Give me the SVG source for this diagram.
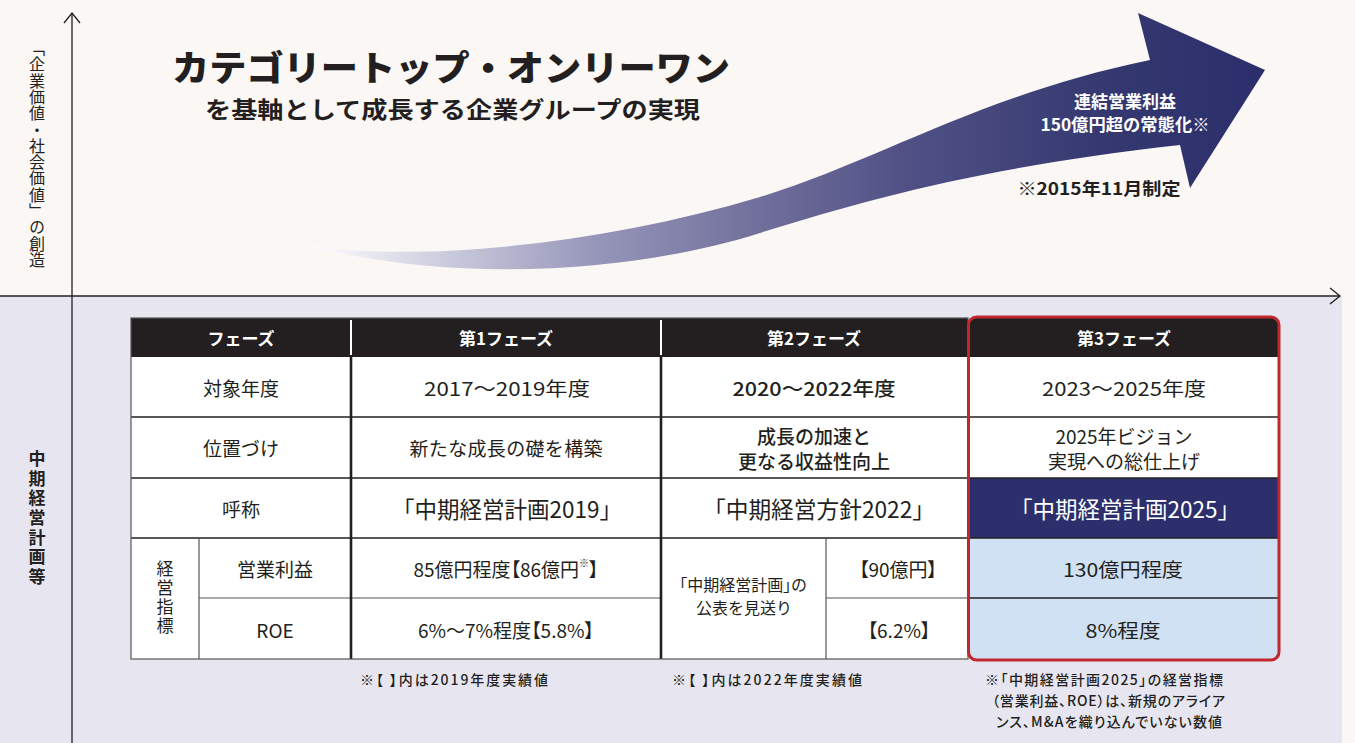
<svg xmlns="http://www.w3.org/2000/svg" width="1355" height="743" viewBox="0 0 1355 743">
<defs>
<linearGradient id="arrowGrad" gradientUnits="userSpaceOnUse" x1="310" y1="0" x2="1265" y2="0">
<stop offset="0" stop-color="#FFFFFF"/>
<stop offset="0.15" stop-color="#C8C8DC"/>
<stop offset="0.30" stop-color="#9696BA"/>
<stop offset="0.45" stop-color="#75749F"/>
<stop offset="0.62" stop-color="#515186"/>
<stop offset="0.83" stop-color="#353970"/>
<stop offset="1" stop-color="#2B2E6B"/>
</linearGradient>
<style>
text{font-family:"Noto Sans CJK JP","Noto Sans",sans-serif;fill:#231F20;}
.c{text-anchor:middle;dominant-baseline:central;}
.hd{font-size:17px;font-weight:700;fill:#FFFFFF;}
.cell{font-size:19px;font-weight:400;}
.big{font-size:23px;font-weight:400;}
.med{font-weight:500;}
.pa{font-feature-settings:"palt";}
.note{font-size:14px;font-weight:500;}
.axis{stroke:#231F20;stroke-width:1.3;fill:none;}
.blk{stroke:#231F20;stroke-width:1.6;}
.thk{stroke:#231F20;stroke-width:2.6;}
.gry{stroke:#555555;stroke-width:1.2;}
.wsep{stroke:#FFFFFF;stroke-width:2;}
</style>
</defs>

<g id="background">
<rect x="0" y="0" width="1355" height="743" fill="#FBF7F5"/>
<rect x="0" y="296" width="1342" height="447" fill="#E7E6F0"/>
</g>

<g id="axes">
<line class="axis" x1="0" y1="296" x2="1340" y2="296"/>
<polyline class="axis" points="1330,288 1340,296 1330,304"/>
<line class="axis" x1="72" y1="743" x2="72" y2="13"/>
<polyline class="axis" points="64,23 72,13 80,23"/>
</g>

<g id="axis-labels">
<text x="37" y="40" style="writing-mode:vertical-rl;font-size:16px;letter-spacing:0.3px;">「企業価値・社会価値」の創造</text>
<text x="37" y="450" style="writing-mode:vertical-rl;font-size:17px;font-weight:700;letter-spacing:2.7px;">中期経営計画等</text>
</g>

<g id="title">
<text x="172" y="65" dominant-baseline="central" font-size="35" font-weight="900" textLength="558" lengthAdjust="spacingAndGlyphs">カテゴリートップ・オンリーワン</text>
<text x="205" y="108" dominant-baseline="central" font-size="23" font-weight="700" textLength="495" lengthAdjust="spacingAndGlyphs">を基軸として成長する企業グループの実現</text>
</g>

<g id="growth-arrow">
<path d="M310,246 C420,262 600,245 760,197 C880,160 980,95 1150,60 L1138,13 L1265,70 L1190,188 L1180,145 C1000,165 880,195 760,233 C640,271 460,285 310,246 Z" fill="url(#arrowGrad)"/>
<text class="c" x="1125" y="100" font-size="17" font-weight="600" style="fill:#FFFFFF">連結営業利益</text>
<text class="c" x="1125" y="123" font-size="17" font-weight="600" style="fill:#FFFFFF" textLength="169" lengthAdjust="spacingAndGlyphs">150億円超の常態化※</text>
<text class="c" x="1099" y="187" font-size="17" font-weight="700" textLength="163" lengthAdjust="spacingAndGlyphs">※2015年11月制定</text>
</g>

<g id="table">
<rect x="131" y="318" width="837" height="39" fill="#231F20"/>
<rect x="131" y="357" width="837" height="302" fill="#FFFFFF"/>
<path d="M968,357 V325 Q968,317 976,317 H1271 Q1279,317 1279,325 V357 Z" fill="#231F20"/>
<rect x="968" y="357" width="311" height="121" fill="#FFFFFF"/>
<rect x="968" y="478" width="311" height="60" fill="#2C2F6C"/>
<path d="M968,538 H1279 V651 Q1279,659 1271,659 H976 Q968,659 968,651 Z" fill="#CFE1F2"/>
</g>

<g id="connectors">
<line class="wsep" x1="351" y1="320" x2="351" y2="355"/>
<line class="wsep" x1="661" y1="320" x2="661" y2="355"/>
<line class="blk" x1="131" y1="417" x2="1279" y2="417"/>
<line class="blk" x1="131" y1="478" x2="1279" y2="478"/>
<line class="blk" x1="131" y1="538" x2="1279" y2="538"/>
<line class="gry" x1="199" y1="598" x2="351" y2="598"/>
<line class="gry" x1="351" y1="598" x2="661" y2="598"/>
<line class="gry" x1="826" y1="598" x2="968" y2="598"/>
<line class="blk" x1="968" y1="598" x2="1279" y2="598"/>
<line class="gry" x1="199" y1="538" x2="199" y2="659"/>
<line class="gry" x1="826" y1="538" x2="826" y2="659"/>
<line class="thk" x1="351" y1="357" x2="351" y2="659"/>
<line class="thk" x1="661" y1="357" x2="661" y2="659"/>
<rect x="131" y="318" width="837" height="341" fill="none" stroke="#555555" stroke-width="1.2"/>
<rect x="968.5" y="317" width="310.5" height="343" rx="8" fill="none" stroke="#C1272D" stroke-width="3"/>
</g>

<g id="header-row">
<text class="c hd" x="241" y="337">フェーズ</text>
<text class="c hd" x="506" y="337">第1フェーズ</text>
<text class="c hd" x="814" y="337">第2フェーズ</text>
<text class="c hd" x="1124" y="337">第3フェーズ</text>
</g>

<g id="row-years">
<text class="c cell" x="241" y="387">対象年度</text>
<text class="c cell" x="507" y="387" textLength="166" lengthAdjust="spacingAndGlyphs">2017～2019年度</text>
<text class="c cell med" x="814" y="387" textLength="163" lengthAdjust="spacingAndGlyphs">2020～2022年度</text>
<text class="c cell" x="1124" y="387" textLength="164" lengthAdjust="spacingAndGlyphs">2023～2025年度</text>
</g>

<g id="row-position">
<text class="c cell" x="241" y="447">位置づけ</text>
<text class="c cell" x="506" y="447" textLength="193">新たな成長の礎を構築</text>
<text class="c cell med" x="814" y="435">成長の加速と</text>
<text class="c cell med" x="814" y="460">更なる収益性向上</text>
<text class="c cell" x="1124" y="435">2025年ビジョン</text>
<text class="c cell" x="1124" y="460">実現への総仕上げ</text>
</g>

<g id="row-name">
<text class="c cell" x="241" y="508">呼称</text>
<text class="c big" x="507" y="508" textLength="230" lengthAdjust="spacingAndGlyphs">「中期経営計画2019」</text>
<text class="c big" x="819" y="508" textLength="232" lengthAdjust="spacingAndGlyphs">「中期経営方針2022」</text>
<text class="c big" x="1125" y="508" textLength="230" lengthAdjust="spacingAndGlyphs" style="fill:#FFFFFF">「中期経営計画2025」</text>
</g>

<g id="row-kpi">
<text x="165" y="560" style="writing-mode:vertical-rl;font-size:17px;letter-spacing:2px;">経営指標</text>
<text class="c cell" x="275" y="568">営業利益</text>
<text class="c cell" x="275" y="629">ROE</text>
<text class="c cell pa" x="506" y="568">85億円程度【86億円<tspan font-size="10" dy="-6">※</tspan><tspan dy="6">】</tspan></text>
<text class="c cell pa" x="506" y="629">6%～7%程度【5.8%】</text>
<text class="c pa" x="743" y="584" font-size="16">「中期経営計画」の</text>
<text class="c" x="744" y="607" font-size="16">公表を見送り</text>
<text class="c cell pa" x="898" y="568">【90億円】</text>
<text class="c cell pa" x="899" y="629">【6.2%】</text>
<text class="c cell" x="1123" y="568" textLength="120" lengthAdjust="spacingAndGlyphs">130億円程度</text>
<text class="c cell" x="1123" y="629" textLength="75" lengthAdjust="spacingAndGlyphs">8%程度</text>
</g>

<g id="footnotes">
<text class="note pa" x="360" y="679" dominant-baseline="central" textLength="188">※【 】内は2019年度実績値</text>
<text class="note pa" x="672" y="679" dominant-baseline="central" textLength="190">※【 】内は2022年度実績値</text>
<text class="note pa" x="985" y="679" dominant-baseline="central" textLength="238">※「中期経営計画2025」の経営指標</text>
<text class="note pa" x="992" y="700" dominant-baseline="central" textLength="233">（営業利益、ROE）は、新規のアライア</text>
<text class="note pa" x="996" y="721" dominant-baseline="central" textLength="226">ンス、M&amp;Aを織り込んでいない数値</text>
</g>
</svg>
